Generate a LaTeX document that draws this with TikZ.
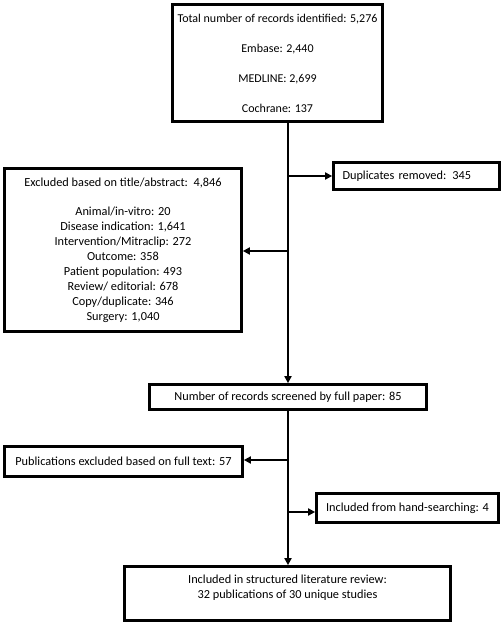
\documentclass[tikz,border=0pt]{standalone}
\usepackage{fontspec}
\setmainfont{Carlito}
\usetikzlibrary{arrows.meta}
\tikzset{
  box/.style={draw=black, line width=2.7pt, fill=white, inner sep=0pt, align=center, font=\fontsize{12.3}{15}\selectfont},
  conn/.style={line width=2.5pt, draw=black},
  arr/.style={conn, -{Triangle[length=7pt,width=7pt]}}
}
\begin{document}
\begin{tikzpicture}[x=1pt,y=-1pt]
\useasboundingbox (0,0) rectangle (503,625);
\node[box, minimum width=210pt, minimum height=117pt, font=\fontsize{12}{30}\selectfont] (top) at (277.5,63)
  {Total number of records identified: 5,276\\Embase: 2,440\\MEDLINE: 2,699\\Cochrane: 137};
\node[box, minimum height=27pt, text width=148pt, inner xsep=9pt, align=left] (dup) at (416.5,176)
  {Duplicates removed: 345};
\node[box, minimum width=237pt, minimum height=163pt] (excl) at (123,250)
  {Excluded based on title/abstract:\ \ 4,846\\[14pt]Animal/in-vitro: 20\\Disease indication: 1,641\\Intervention/Mitraclip: 272\\Outcome: 358\\Patient population: 493\\Review/ editorial: 678\\Copy/duplicate: 346\\Surgery: 1,040};
\node[box, minimum width=277pt, minimum height=25pt] (scr) at (288,397)
  {Number of records screened by full paper: 85};
\node[box, minimum width=238pt, minimum height=30pt] (pub) at (123.5,461.5)
  {Publications excluded based on full text: 57};
\node[box, minimum width=182pt, minimum height=29pt] (hand) at (407.5,508)
  {Included from hand-searching: 4};
\node[box, minimum width=326pt, minimum height=54pt] (fin) at (287.5,593.5) {};
\node[align=center, inner sep=0pt, font=\fontsize{12.3}{15}\selectfont] (fintext) at (287.5,587.5)
  {Included in structured literature review:\\32 publications of 30 unique studies};
\coordinate (j1) at (scr.north |- top.south);
\coordinate (j2) at (scr.south);
\draw[arr] (j1) -- (scr.north);
\draw[arr] (j1 |- dup.west) -- (dup.west);
\draw[arr] ([yshift=-1pt]j1 |- excl.east) -- ([yshift=-1pt]excl.east);
\draw[arr] (j2) -- (j2 |- fin.north);
\draw[arr] ([yshift=1.5pt]j2 |- pub.east) -- ([yshift=1.5pt]pub.east);
\draw[arr] ([yshift=-4pt]j2 |- hand.west) -- ([yshift=-4pt]hand.west);
\end{tikzpicture}
\end{document}
